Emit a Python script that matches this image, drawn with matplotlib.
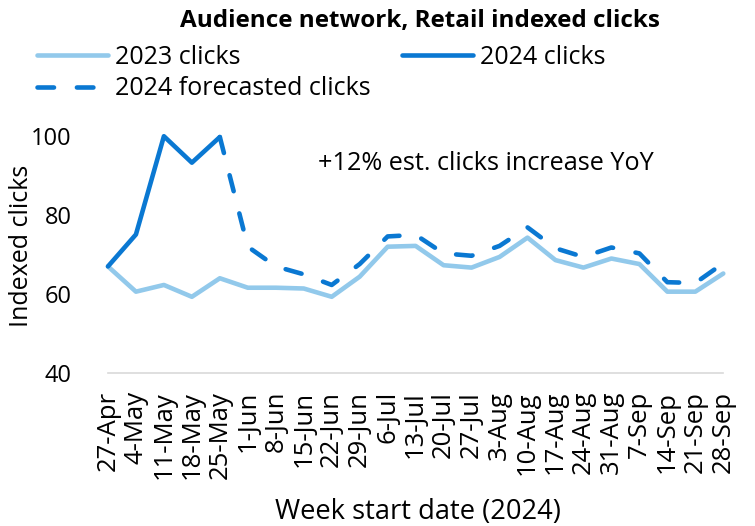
import matplotlib
matplotlib.use("Agg")
import matplotlib.pyplot as plt
import numpy as np

weeks = ["27-Apr", "4-May", "11-May", "18-May", "25-May", "1-Jun", "8-Jun", "15-Jun",
         "22-Jun", "29-Jun", "6-Jul", "13-Jul", "20-Jul", "27-Jul", "3-Aug", "10-Aug",
         "17-Aug", "24-Aug", "31-Aug", "7-Sep", "14-Sep", "21-Sep", "28-Sep"]
clicks_2023 = [67.0, 60.6, 62.3, 59.3, 64.0, 61.6, 61.6, 61.4, 59.3, 64.4, 72.0, 72.2,
               67.3, 66.7, 69.4, 74.3, 68.6, 66.7, 69.0, 67.6, 60.6, 60.6, 65.2]
clicks_2024 = [67.0, 75.1, 100.0, 93.3, 99.8]
forecast_2024 = [None, None, None, None, 99.8, 72.0, 67.0, 65.0, 62.3, 67.6, 74.6, 75.0,
                 70.3, 69.7, 72.2, 76.9, 71.6, 69.4, 71.8, 70.3, 63.0, 62.8, 67.8]

plt.rcParams['font.family'] = ['Open Sans', 'DejaVu Sans']

c_light = '#92c9eb'
c_dark = '#0a78d2'
lw = 3.3

fig = plt.figure(figsize=(7.55, 5.26), dpi=100)
ax = fig.add_axes([0.143, 0.291, 0.815, 0.450])

x = np.arange(len(weeks))
h23, = ax.plot(x, clicks_2023, color=c_light, lw=lw, solid_capstyle='round',
               solid_joinstyle='round', label='2023 clicks', clip_on=False, zorder=2)
h24, = ax.plot(x[:len(clicks_2024)], clicks_2024, color=c_dark, lw=lw, solid_capstyle='round',
               solid_joinstyle='round', label='2024 clicks', clip_on=False, zorder=3)
fx = [i for i, v in enumerate(forecast_2024) if v is not None]
fy = [v for v in forecast_2024 if v is not None]
hf, = ax.plot(fx, fy, color=c_dark, lw=lw, ls=(0, (3.6, 5.0)), dash_capstyle='round',
              label='2024 forecasted clicks', clip_on=False, zorder=3)

ax.set_xlim(0, len(weeks) - 1)
ax.set_ylim(40, 100)
ax.set_yticks([40, 60, 80, 100])
ax.set_xticks(x)
ax.set_xticklabels(weeks, rotation=90, fontsize=18.5)
ax.tick_params(axis='y', labelsize=17, length=0, pad=26)
ax.tick_params(axis='x', length=0, pad=13)
for s in ['top', 'right', 'left']:
    ax.spines[s].set_visible(False)
ax.spines['bottom'].set_color('#d9d9d9')
ax.spines['bottom'].set_linewidth(1.2)

fig.text(22 / 755, 1 - 246 / 526, 'Indexed clicks', fontsize=18, rotation=90,
         ha='center', va='center')
fig.text(418 / 755, 1 - 519 / 526, 'Week start date (2024)', fontsize=19.6,
         ha='center', va='baseline')

ax.text(7.5, 93.2, '+12% est. clicks increase YoY', fontsize=18.2, va='center', ha='left')

fig.text(420 / 755, 1 - 21 / 526, 'Audience network, Retail indexed clicks', fontsize=17.5,
         fontweight='bold', ha='center', va='center')

leg_kw = dict(loc='upper left', frameon=False, fontsize=18, handlelength=2.85,
              handletextpad=0.28, labelspacing=0.25, borderaxespad=0, borderpad=0)
leg1 = fig.legend([h23, hf], ['2023 clicks', '2024 forecasted clicks'],
                  bbox_to_anchor=(37 / 755, 1 - 45 / 526), **leg_kw)
leg2 = fig.legend([h24], ['2024 clicks'], bbox_to_anchor=(402 / 755, 1 - 45 / 526), **leg_kw)

fig.savefig('out.png', dpi=100)
